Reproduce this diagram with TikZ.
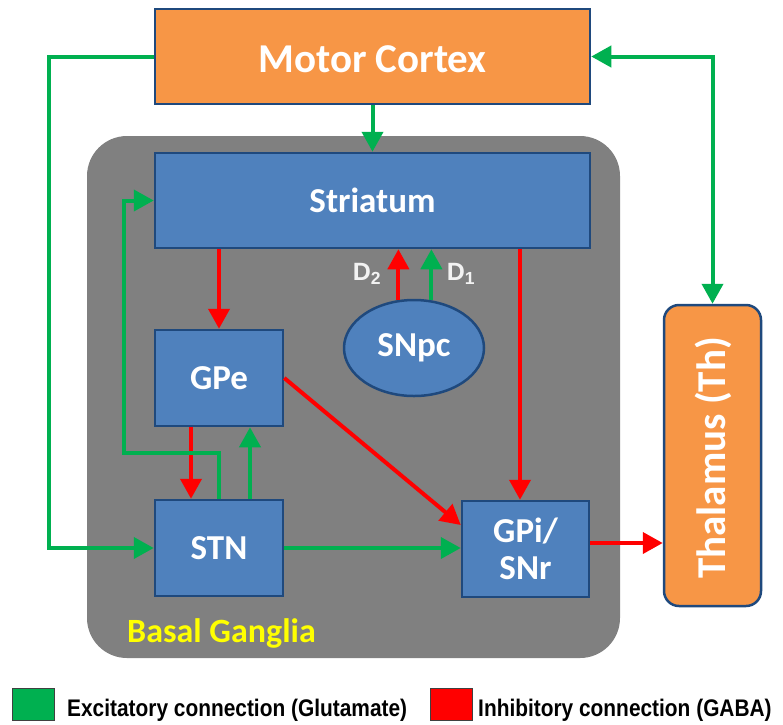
\documentclass[tikz,border=0pt]{standalone}
\usepackage{fontspec}
\setmainfont{Carlito}
\newfontfamily\legendfont{Liberation Sans}
\usetikzlibrary{arrows.meta,shapes.geometric}
\definecolor{ctxorange}{HTML}{F79646}
\definecolor{nucblue}{HTML}{4F81BD}
\definecolor{edgeblue}{HTML}{1F497D}
\definecolor{bggray}{HTML}{808080}
\definecolor{excgreen}{HTML}{00B050}
\definecolor{inhred}{HTML}{FF0000}
\definecolor{labelyellow}{HTML}{FFFF00}
\definecolor{sublabel}{HTML}{F2F2F2}

\begin{document}
\begin{tikzpicture}[x=1pt,y=-1pt,
  region/.style={draw=edgeblue, line width=2.5pt, text=white, inner sep=0pt,
    font=\bfseries\fontsize{35}{40}\selectfont},
  nucleus/.style={region, fill=nucblue},
  outerarea/.style={region, fill=ctxorange, font=\bfseries\fontsize{41}{45}\selectfont},
  exc/.style={draw=excgreen, line width=4pt, -{Triangle[length=20pt,width=21pt]}},
  inh/.style={draw=inhred, line width=4pt, -{Triangle[length=20pt,width=21pt]}},
  legendsq/.style={draw=black!75, line width=1pt, minimum width=42pt, minimum height=32pt, inner sep=0pt},
  legendtext/.style={anchor=base west, inner sep=0pt, font=\legendfont\bfseries\fontsize{24}{26}\selectfont},
  dlabel/.style={text=sublabel, inner sep=0pt, font=\legendfont\bfseries\fontsize{25}{28}\selectfont},
]
\useasboundingbox (0,0) rectangle (783,724);

% basal ganglia background
\fill[bggray, rounded corners=40pt] (87,136) rectangle (620,658);
\node[anchor=base west, inner sep=0pt, text=labelyellow,
  font=\bfseries\fontsize{34}{38}\selectfont] (bglabel) at (127,642) {Basal Ganglia};

% regions
\node[outerarea, rectangle, minimum width=435pt, minimum height=95pt] (mc) at (372.5,56.5) {};
\node[text=white, inner sep=0pt, font=\bfseries\fontsize{41}{45}\selectfont] (mclabel) at (372.5,59.5) {Motor Cortex};
\node[nucleus, rectangle, minimum width=435pt, minimum height=95pt] (str) at (372.5,200.5) {Striatum};
\node[nucleus, rectangle, minimum width=128pt, minimum height=96pt] (gpe) at (219,378) {GPe};
\node[nucleus, rectangle, minimum width=128pt, minimum height=96pt] (stn) at (219,548) {STN};
\node[nucleus, rectangle, minimum width=127pt, minimum height=96pt, align=center,
  font=\bfseries\fontsize{35}{37}\selectfont] (gpi) at (525.5,549) {GPi/\\SNr};
\node[nucleus, ellipse, minimum width=140pt, minimum height=96pt] (snpc) at (414,348) {SNpc};
\node[outerarea, rectangle, rounded corners=15pt, minimum width=97pt, minimum height=301pt] (th) at (712.5,455.5) {};
\node[text=white, rotate=90, inner sep=0pt, font=\bfseries\fontsize{41}{45}\selectfont] (thlabel) at (713,458) {Thalamus (Th)};

% helper points
\coordinate (leftbus) at (49,548);
\coordinate (fbcorner) at (124,453);
\coordinate (gpitop) at ([xshift=-5.5pt]gpi.north);

% cortical connections
\draw[exc] (mc.south) -- (str.north);
\draw[exc] (mc.west) -| (leftbus) -- (stn.west);
\draw[excgreen, line width=4pt, {Triangle[length=20pt,width=21pt]}-{Triangle[length=20pt,width=21pt]}] (mc.east) -| (th.north);

% striatal outputs
\draw[inh] (str.south -| gpe.north) -- (gpe.north);
\draw[inh] (gpitop |- str.south) -- (gpitop);

% dopaminergic inputs
\draw[inh] (snpc.108) -- (snpc.108 |- str.south);
\draw[exc] (snpc.70) -- (snpc.70 |- str.south);
\node[dlabel] (d2) at (367,274) {D\textsubscript{2}};
\node[dlabel] (d1) at (461,274) {D\textsubscript{1}};

% GPe / STN loop
\draw[inh] ([xshift=-28pt]gpe.south) -- ([xshift=-28pt]stn.north);
\draw[exc] ([xshift=31pt]stn.north) -- ([xshift=31pt]gpe.south);
\draw[exc] (stn.north) |- (fbcorner) |- (str.west);

% outputs to GPi/SNr and thalamus
\draw[inh] (gpe.east) -- ([yshift=24pt]gpi.west);
\draw[exc] (stn.east) -- (stn.east -| gpi.west);
\draw[inh] ([yshift=6pt]gpi.east) -- ([yshift=6pt]gpi.east -| th.west);

% legend
\node[legendsq, fill=excgreen] (lgex) at (33,704) {};
\node[legendtext] (ltex) at (67,716) {\scalebox{0.87}[1]{Excitatory connection (Glutamate)}};
\node[legendsq, fill=inhred] (lgin) at (451.5,704) {};
\node[legendtext] (ltin) at (478,716) {\scalebox{0.87}[1]{Inhibitory connection (GABA)}};
\end{tikzpicture}
\end{document}
